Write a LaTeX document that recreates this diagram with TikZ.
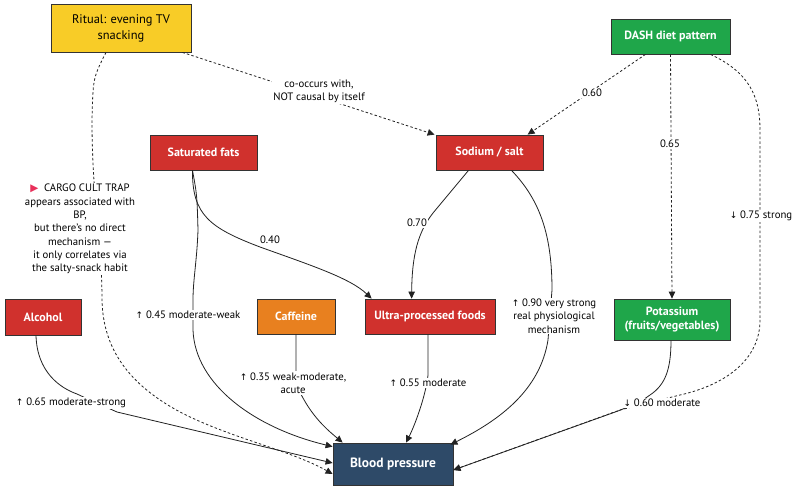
\documentclass[tikz,border=0pt]{standalone}
\usepackage{fontspec}
\setmainfont{PT Sans}
\newfontfamily\dejavu{DejaVu Sans}
\usetikzlibrary{arrows.meta}
\definecolor{ritualY}{HTML}{F8CC27}
\definecolor{redN}{HTML}{D0312D}
\definecolor{orangeN}{HTML}{E8801F}
\definecolor{greenN}{HTML}{1FA64A}
\definecolor{blueN}{HTML}{2E4A68}
\definecolor{flagR}{HTML}{E8305A}
\definecolor{edgeC}{HTML}{222222}
\newcommand\uparr{{\dejavu\fontsize{9}{9}\selectfont ↑}}
\newcommand\dnarr{{\dejavu\fontsize{9}{9}\selectfont ↓}}
\begin{document}
\begin{tikzpicture}[x=1bp,y=-1bp,
  box/.style={draw=black!80, line width=0.8bp, inner sep=2bp, align=center,
    font=\fontsize{12}{14.5}\selectfont\bfseries, text=white},
  lbl/.style={fill=white, inner sep=1.2bp, align=center,
    font=\fontsize{10.8}{13.4}\selectfont, text=black},
  edge/.style={draw=edgeC, line width=0.8bp, -{Triangle[length=7bp,width=6.5bp]}},
  dedge/.style={edge, dash pattern=on 2.5bp off 2.2bp},
]
\useasboundingbox (0,0) rectangle (800,495);
\fill[white] (0,0) rectangle (800,495);

% nodes
\node[box, fill=ritualY, text=black, font=\fontsize{12.5}{16}\selectfont,
  minimum width=140bp, minimum height=48bp] (ritual) at (121,28) {Ritual: evening TV\\snacking};
\node[box, fill=greenN, minimum width=119bp, minimum height=35bp] (dash) at (670.5,36.5) {DASH diet pattern};
\node[box, fill=redN, minimum width=107bp, minimum height=35bp] (sat) at (203.5,152.5) {Saturated fats};
\node[box, fill=redN, minimum width=107bp, minimum height=35bp] (sodium) at (489.5,152.5) {Sodium / salt};
\node[box, fill=redN, minimum width=76bp, minimum height=36bp] (alcohol) at (43,317) {Alcohol};
\node[box, fill=orangeN, minimum width=78bp, minimum height=35bp] (caffeine) at (296,316.5) {Caffeine};
\node[box, fill=redN, minimum width=130bp, minimum height=35bp] (ultra) at (430,316.5) {Ultra-processed foods};
\node[box, fill=greenN, minimum width=116bp, minimum height=41bp] (potassium) at (672,319.5) {Potassium\\(fruits/vegetables)};
\node[box, fill=blueN, font=\fontsize{13.5}{14}\selectfont\bfseries,
  minimum width=120bp, minimum height=42bp] (bp) at (393,464) {Blood pressure};

% connectors
\draw[dedge] ([xshift=-9bp]ritual.south east) -- ([xshift=-1bp]sodium.north west);
\draw[dedge] ([xshift=-15bp]ritual.south) .. controls (93,78) .. (92,120)
  .. controls (92,200) and (102,240) .. (102,300)
  .. controls (103,350) and (130,385) .. (180,412)
  .. controls (230,438) and (290,450) .. ([yshift=-10bp]bp.west);
\draw[dedge] ([xshift=-25bp]dash.south) -- ([xshift=92bp]sodium.north west);
\draw[dedge] (dash.south) -- (potassium.north);
\draw[dedge] ([xshift=40bp]dash.south) .. controls (748,72) and (760,95) .. (760,130)
  -- (760,320) .. controls (760,360) and (725,385) .. (680,395)
  -- (620,410) -- ([yshift=-6bp]bp.east);

\draw[edge] ([xshift=-11bp]sat.south) .. controls (192,215) and (210,228) .. (260,247)
  .. controls (310,265) and (350,278) .. ([xshift=7bp]ultra.north west);
\draw[edge] ([xshift=-11bp]sat.south) .. controls (197,195) .. (198,230)
  .. controls (197,260) and (193,280) .. (193,300) -- (193,330)
  .. controls (195,385) and (255,428) .. ([yshift=-4bp]bp.north west);
\draw[edge] ([xshift=-21bp]sodium.south) -- (433,213)
  .. controls (418,232) and (412,255) .. ([xshift=47bp]ultra.north west);
\draw[edge] ([xshift=22bp]sodium.south) .. controls (540,200) and (552,235) .. (552,290)
  -- (548,340) .. controls (540,390) and (500,420) .. ([xshift=-3bp,yshift=-2bp]bp.north east);
\draw[edge] ([xshift=-7bp]alcohol.south) .. controls (37,372) and (60,388) .. (77,394)
  .. controls (90,400) .. (117,412) -- ([yshift=1bp]bp.west);
\draw[edge] (caffeine.south) -- (296,368) .. controls (296,385) .. (303,398)
  .. controls (315,420) and (330,432) .. ([xshift=10bp]bp.north west);
\draw[edge] ([xshift=-2bp]ultra.south) -- (428,375) .. controls (426,395) and (415,425) .. ([xshift=13bp]bp.north);
\draw[edge] ([xshift=-1bp]potassium.south) .. controls (671,370) and (665,385) .. (650,395)
  .. controls (640,402) .. (618,411) -- ([yshift=-6bp]bp.east);

% labels
\node[lbl] (l1) at (319,91) {co-occurs with,\\NOT causal by itself};
\node[lbl] (l2) at (592,93) {0.60};
\node[lbl] (l3) at (670,144) {0.65};
\node[lbl] (l4) at (761,216) {\dnarr\ 0.75 strong};
\node[lbl] (l5) at (417,223) {0.70};
\node[lbl, fill=none] (l6) at (270,240) {0.40};
\node[lbl] (l7) at (80,229) {{\dejavu\fontsize{10.5}{10}\selectfont\textcolor{flagR}{▶}}\ \ CARGO CULT TRAP\\appears associated with\\BP,\\but there’s no direct\\mechanism —\\it only correlates via\\the salty-snack habit};
\node[lbl] (l8) at (188,315) {\uparr\ 0.45 moderate-weak};
\node[lbl] (l9) at (293,383) {\uparr\ 0.35 weak-moderate,\\acute};
\node[lbl] (l10) at (428,383) {\uparr\ 0.55 moderate};
\node[lbl] (l11) at (554,316) {\uparr\ 0.90 very strong\\real physiological\\mechanism};
\node[lbl] (l12) at (662,403) {\dnarr\ 0.60 moderate};
\node[lbl] (l13) at (71,403) {\uparr\ 0.65 moderate-strong};
\end{tikzpicture}
\end{document}
